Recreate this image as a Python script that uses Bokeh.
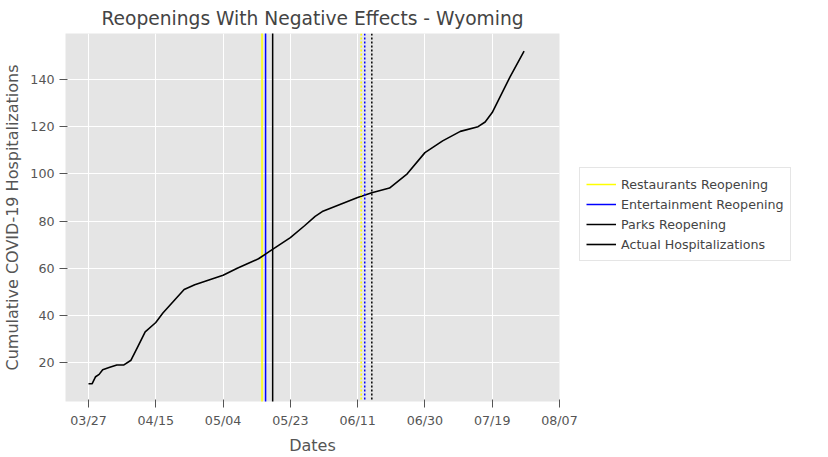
import pandas as pd
from bokeh.models import Span, Legend, LegendItem, FixedTicker, DatetimeTickFormatter, Range1d
from bokeh.plotting import figure
from bokeh.embed import file_html
from bokeh.resources import INLINE

# cumulative hospitalizations
dates = ["2020-03-27", "2020-03-28", "2020-03-29", "2020-03-30", "2020-03-31", "2020-04-02",
         "2020-04-04", "2020-04-06", "2020-04-08", "2020-04-10", "2020-04-12", "2020-04-15",
         "2020-04-17", "2020-04-20", "2020-04-23", "2020-04-26", "2020-04-30", "2020-05-04",
         "2020-05-08", "2020-05-11", "2020-05-14", "2020-05-17", "2020-05-20", "2020-05-23",
         "2020-05-27", "2020-05-30", "2020-06-01", "2020-06-06", "2020-06-11", "2020-06-15",
         "2020-06-20", "2020-06-25", "2020-06-30", "2020-07-05", "2020-07-10", "2020-07-15",
         "2020-07-17", "2020-07-19", "2020-07-24", "2020-07-28"]
hosp = [11, 11, 14, 15, 17, 18, 19, 19, 21, 27, 33, 37, 41, 46, 51, 53, 55, 57,
        60, 62, 64, 67, 70, 73, 78, 82, 84, 87, 90, 92, 94, 100, 109, 114, 118, 120, 122,
        126, 141, 152]

reopen_dates = ["2020-05-15", "2020-05-16", "2020-05-18"]       # solid lines
reopen_later = ["2020-06-12", "2020-06-13", "2020-06-15"]       # dotted lines
reopen_colors = ["yellow", "blue", "black"]
legend_labels = ["Restaurants Reopening", "Entertainment Reopening", "Parks Reopening",
                 "Actual Hospitalizations"]
tick_dates = ["2020-03-27", "2020-04-15", "2020-05-04", "2020-05-23", "2020-06-11",
              "2020-06-30", "2020-07-19", "2020-08-07"]
y_ticks = [20, 40, 60, 80, 100, 120, 140]

def ms(d):
    return pd.Timestamp(d).value / 1e6

x = pd.to_datetime(dates)

p = figure(x_axis_type="datetime", output_backend="svg", toolbar_location=None,
           frame_width=494, frame_height=368, min_border_left=60, min_border_right=256,
           min_border_top=26, min_border_bottom=40,
           title="Reopenings With Negative Effects - Wyoming")
p.x_range = Range1d(ms("2020-03-21") - 12 * 3600e3, ms("2020-08-07"))
p.y_range = Range1d(3.5, 159.5)

p.background_fill_color = "#e5e5e5"
p.outline_line_color = None
p.grid.grid_line_color = "white"
p.grid.grid_line_width = 1
for ax in (p.xaxis, p.yaxis):
    ax.axis_line_color = None
    ax.major_tick_line_color = "#555555"
    ax.minor_tick_line_color = None
    ax.major_label_text_color = "#555555"
    ax.major_label_text_font_size = "9.5pt"
    ax.axis_label_text_font_size = "12pt"
    ax.axis_label_text_font_style = "normal"
    ax.axis_label_text_color = "#555555"
    ax.major_label_text_font = "DejaVu Sans"
    ax.axis_label_text_font = "DejaVu Sans"
p.xaxis.ticker = FixedTicker(ticks=[ms(d) for d in tick_dates])
p.xaxis.formatter = DatetimeTickFormatter(days="%m/%d", months="%m/%d")
p.yaxis.ticker = FixedTicker(ticks=y_ticks)
p.xaxis.axis_label = "Dates"
p.yaxis.axis_label = "Cumulative COVID-19 Hospitalizations"
p.title.text_font = "DejaVu Sans"
p.title.text_font_size = "14pt"
p.title.text_font_style = "normal"
p.title.align = "center"

items = []
for d, c, lab in zip(reopen_dates, reopen_colors, legend_labels):
    r = p.line([pd.Timestamp(d)] * 2, [-1000, 1000], line_color=c, line_width=1.5)
    items.append(LegendItem(label=lab, renderers=[r]))
for d, c in zip(reopen_later, reopen_colors):
    p.add_layout(Span(location=ms(d), dimension="height", line_color=c,
                      line_width=1.5, line_dash="2 2"))
r = p.line(x, hosp, line_color="black", line_width=1.6)
items.append(LegendItem(label=legend_labels[3], renderers=[r]))

legend = Legend(items=items, location=(20, 140), label_text_font="DejaVu Sans",
                label_text_font_size="9.5pt", border_line_color="#cccccc",
                background_fill_color="white", spacing=0, padding=6,
                glyph_width=30, label_height=14)
p.add_layout(legend, "right")

open("out.html", "w").write(file_html(p, INLINE))
